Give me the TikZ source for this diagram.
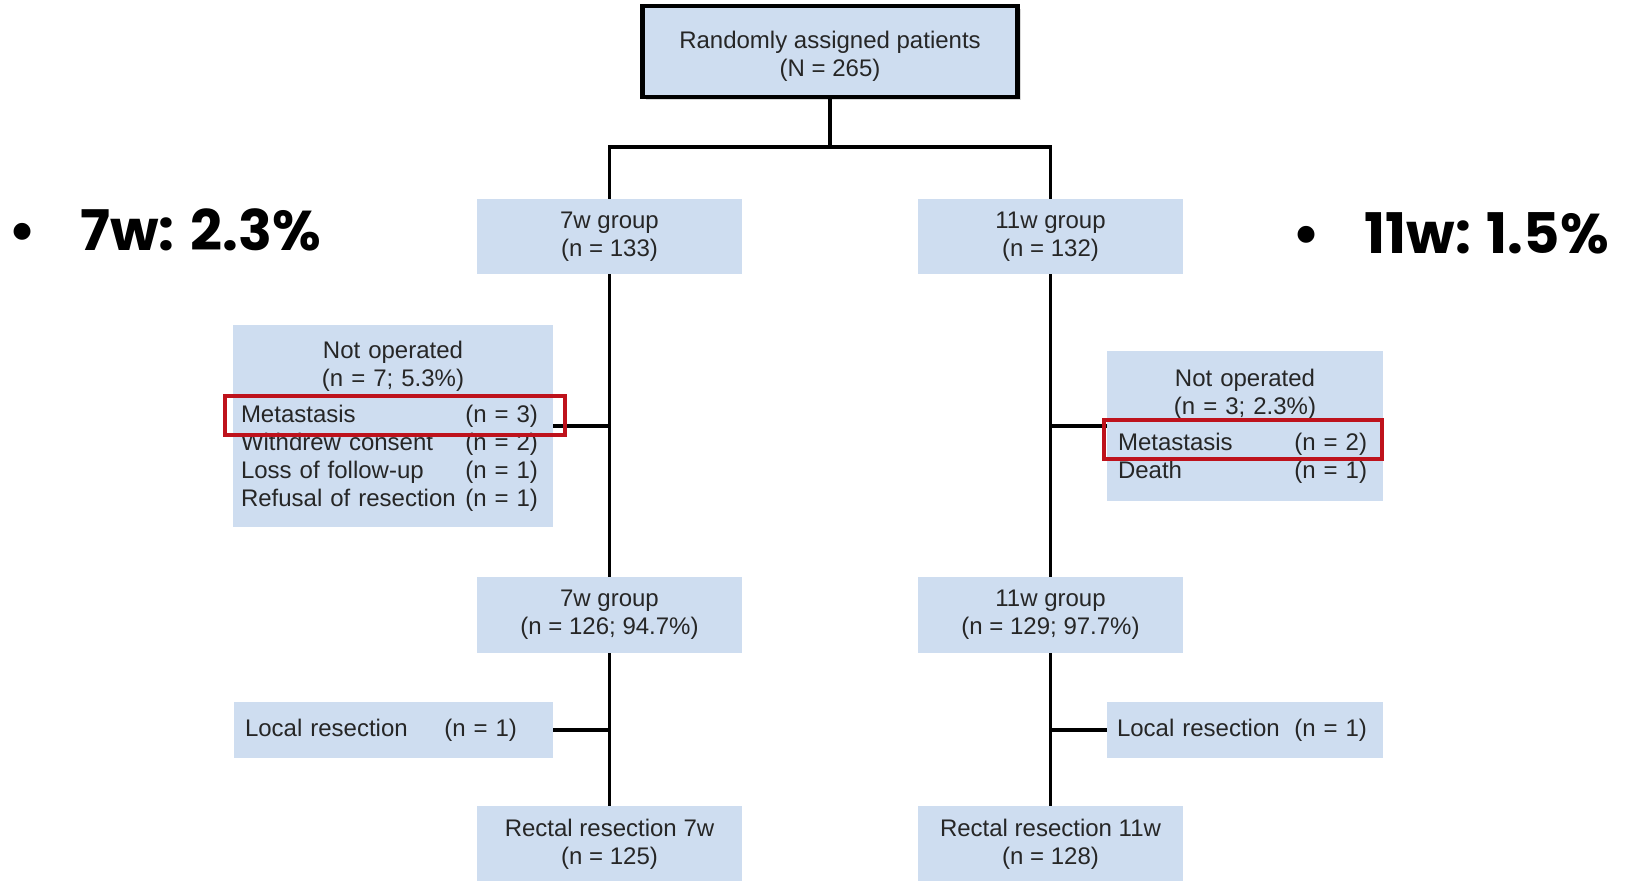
\documentclass[tikz,border=0pt]{standalone}
\usepackage{fontspec}
\setmainfont{Liberation Sans}
\newfontfamily\statfont{Poppins}
\usetikzlibrary{shadows}
\definecolor{boxblue}{RGB}{206,221,240}
\definecolor{markred}{RGB}{190,18,28}
\newcommand\listrow[3][148.5pt]{\makebox[#1]{#2\hfill#3}}
\newcommand\midline[1]{\hspace*{\fill}#1\hspace*{\fill}\null}

\begin{document}
\begin{tikzpicture}[x=1pt,y=-1pt,font=\fontsize{12}{14}\selectfont,
 grp/.style={fill=boxblue,text=black!85,align=center,minimum width=132.5pt,minimum height=37.5pt,inner sep=0pt},
 side/.style={fill=boxblue,text=black!85,align=left,inner ysep=0pt},
 hilite/.style={draw=markred,line width=2pt,minimum height=19.5pt,inner sep=0pt},
 conn/.style={line width=1.6pt},
 stat/.style={font=\statfont\bfseries\fontsize{28}{30}\selectfont,anchor=base west,inner sep=0pt}]
\useasboundingbox (0,0) rectangle (826,440);
\node[grp,draw=black,line width=2.2pt,minimum width=187.5pt,minimum height=45.5pt,
  drop shadow={shadow xshift=1.5pt,shadow yshift=-1.5pt,opacity=.3}] (top) at (415,25.75) {\rule{0pt}{13pt}Randomly assigned patients\\(N = 265)};
\node[grp] (g7) at (304.75,118.25) {7w group\\(n = 133)};
\node[grp] (g11) at (525.25,118.25) {11w group\\(n = 132)};
\node[side,inner xsep=4pt,text width=152pt,minimum height=101pt] (no7) at (196.5,213)
  {\midline{Not operated}\\ \midline{(n = 7; 5.3\%)}\\[4pt]
   \listrow{Metastasis}{(n = 3)}\\ \listrow{Withdrew consent}{(n = 2)}\\
   \listrow{Loss of follow-up}{(n = 1)}\\ \listrow{Refusal of resection}{(n = 1)}};
\node[side,inner xsep=5.5pt,text width=127pt,minimum height=75pt] (no11) at (622.5,213)
  {\midline{Not operated}\\ \midline{(n = 3; 2.3\%)}\\[4pt]
   \listrow[124.5pt]{Metastasis}{(n = 2)}\\ \listrow[124.5pt]{Death}{(n = 1)}};
\node[grp,minimum height=38pt] (h7) at (304.75,307.5) {7w group\\(n = 126; 94.7\%)};
\node[grp,minimum height=38pt] (h11) at (525.25,307.5) {11w group\\(n = 129; 97.7\%)};
\node[side,inner xsep=5.5pt,text width=148.5pt,minimum height=28pt] (lr7) at (196.75,365)
  {\listrow[136pt]{Local resection}{(n = 1)}};
\node[side,inner xsep=5pt,text width=128pt,minimum height=28pt] (lr11) at (622.5,365)
  {\listrow[125pt]{Local resection}{(n = 1)}};
\node[grp,minimum height=38pt] (rr7) at (304.75,422) {Rectal resection 7w\\(n = 125)};
\node[grp,minimum height=38pt] (rr11) at (525.25,422) {Rectal resection 11w\\(n = 128)};
\coordinate (fork) at (415,73.5);
\draw[conn] (top.south)--(fork);
\draw[conn] (g7.north)|-(fork)-|(g11.north);
\draw[conn] (g7.south)--(h7.north);
\draw[conn] (g11.south)--(h11.north);
\draw[conn] (h7.south)--(rr7.north);
\draw[conn] (h11.south)--(rr11.north);
\draw[conn] (no7.east)--(no7.east-|g7.south);
\draw[conn] (no11.west)--(no11.west-|g11.south);
\draw[conn] (lr7.east)--(lr7.east-|h7.south);
\draw[conn] (lr11.west)--(lr11.west-|h11.south);
\node[hilite,minimum width=170pt] (red7) at (197.5,207.75) {};
\node[hilite,minimum width=139pt] (red11) at (621.5,219.75) {};
\node[stat] (s7) at (4,125) {•\hspace{22pt}7w: 2.3\%};
\node[stat] (s11) at (646,126.5) {•\hspace{22pt}11w: 1.5\%};
\end{tikzpicture}
\end{document}
